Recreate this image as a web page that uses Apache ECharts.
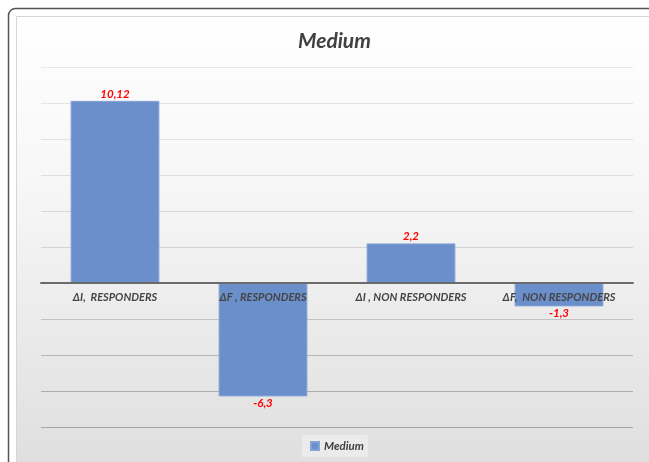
<!DOCTYPE html>
<html>
<head>
<meta charset="utf-8">
<style>
  html, body { margin: 0; padding: 0; background: #fff; }
  #main { width: 649px; height: 462px; }
</style>
</head>
<body>
<div id="main"></div>
<script src="https://cdn.jsdelivr.net/npm/echarts@6/dist/echarts.min.js"></script>
<script>
// 数据
var categories = ['ΔI,  RESPONDERS', 'ΔF , RESPONDERS', 'ΔI , NON RESPONDERS', 'ΔF,  NON RESPONDERS'];
var mediumValues = [10.12, -6.3, 2.2, -1.3];
var seriesName = 'Medium';
// gridline colours from bottom (-8) to top (12)
var gridColors = ['#a6a6a6', '#adadad', '#b6b6b6', '#c3c3c3', '#cccccc', '#d3d3d3', '#d9d9d9', '#dedede', '#e2e2e2', '#e5e5e5', '#e8e8e8'];

var font = 'Lato, "Open Sans", sans-serif';

var myChart = echarts.init(document.getElementById('main'));

var barData = mediumValues.map(function (v) {
    return {
        value: v,
        label: { position: v >= 0 ? 'top' : 'bottom' }
    };
});

var option = {
    backgroundColor: '#ffffff',
    graphic: [
        {
            type: 'rect', z: -20, silent: true,
            shape: { x: 8.5, y: 8.5, width: 680, height: 480, r: 7 },
            style: { fill: '#ffffff', stroke: '#555555', lineWidth: 1.5 }
        },
        {
            type: 'rect', z: -19, silent: true,
            shape: { x: 16.5, y: 16.5, width: 660, height: 470 },
            style: {
                stroke: '#d6d6d6', lineWidth: 1,
                fill: new echarts.graphic.LinearGradient(0, 0, 0, 1, [
                    { offset: 0, color: '#ffffff' },
                    { offset: 0.35, color: '#f7f7f7' },
                    { offset: 1, color: '#dddddd' }
                ])
            }
        }
    ],
    title: {
        text: 'Medium',
        left: 293,
        top: 26,
        textStyle: { fontFamily: font, fontSize: 21, fontWeight: 'bold', fontStyle: 'italic', color: '#404040' }
    },
    legend: {
        data: [seriesName],
        left: 302,
        top: 435,
        icon: 'rect',
        itemWidth: 8,
        itemHeight: 8,
        itemGap: 4,
        padding: [5, 4, 5, 8],
        backgroundColor: '#ebebeb',
        textStyle: { fontFamily: font, fontSize: 11.5, fontWeight: 'bold', fontStyle: 'italic', color: '#404040' }
    },
    grid: {
        left: 41,
        right: 16,
        top: 67,
        bottom: 35
    },
    xAxis: {
        type: 'category',
        data: categories,
        z: 5,
        // 轴线和标签一起放在 0 的位置 (8/20 * 360 = 144)
        offset: -144,
        axisTick: { show: false },
        axisLine: { onZero: false, lineStyle: { color: '#6b6b6b', width: 2 } },
        axisLabel: {
            margin: 9,
            interval: 0,
            fontFamily: font,
            fontSize: 11,
            fontWeight: 'bold',
            fontStyle: 'italic',
            color: '#454545'
        }
    },
    yAxis: {
        type: 'value',
        min: -8,
        max: 12,
        interval: 2,
        axisLabel: { show: false },
        axisLine: { show: false },
        axisTick: { show: false },
        splitLine: { lineStyle: { color: gridColors, width: 1 } }
    },
    series: [
        {
            name: seriesName,
            type: 'bar',
            barWidth: '60%',
            data: barData,
            itemStyle: { color: '#6a8fcb', borderColor: '#86a3d6', borderWidth: 1 },
            label: {
                show: true,
                distance: 1,
                fontFamily: font,
                fontSize: 11.5,
                fontWeight: 'bold',
                fontStyle: 'italic',
                color: '#ff0000',
                formatter: function (p) {
                    return String(p.value).replace('.', ',');
                }
            }
        }
    ]
};

myChart.setOption(option);
</script>
</body>
</html>
